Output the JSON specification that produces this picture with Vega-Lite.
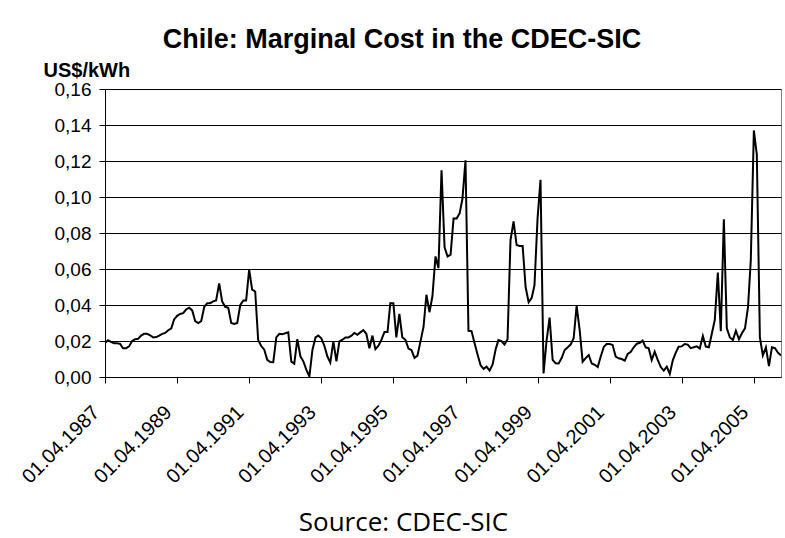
{
  "$schema": "https://vega.github.io/schema/vega-lite/v6.json",
  "width": 676,
  "height": 288,
  "autosize": {"type": "none"},
  "padding": {"left": 105, "top": 89, "right": 4, "bottom": 161},
  "background": "white",
  "title": {
    "text": "Chile: Marginal Cost in the CDEC-SIC",
    "font": "Liberation Sans",
    "fontSize": 27,
    "fontWeight": "bold",
    "color": "black",
    "anchor": "middle",
    "frame": "group",
    "dx": -41,
    "dy": -2
  },
  "data": {
    "values": [
      {"date": "1987-04-01", "cost": 0.0189}, {"date": "1987-05-01", "cost": 0.0204}, {"date": "1987-06-01", "cost": 0.0195}, {"date": "1987-07-01", "cost": 0.0187}, {"date": "1987-08-01", "cost": 0.0187}, {"date": "1987-09-01", "cost": 0.0184}, {"date": "1987-10-01", "cost": 0.016}, {"date": "1987-11-01", "cost": 0.016}, {"date": "1987-12-01", "cost": 0.017},
      {"date": "1988-01-01", "cost": 0.020}, {"date": "1988-02-01", "cost": 0.021}, {"date": "1988-03-01", "cost": 0.0212}, {"date": "1988-04-01", "cost": 0.023}, {"date": "1988-05-01", "cost": 0.024}, {"date": "1988-06-01", "cost": 0.024}, {"date": "1988-07-01", "cost": 0.0232}, {"date": "1988-08-01", "cost": 0.022}, {"date": "1988-09-01", "cost": 0.0222}, {"date": "1988-10-01", "cost": 0.023}, {"date": "1988-11-01", "cost": 0.024}, {"date": "1988-12-01", "cost": 0.0245},
      {"date": "1989-01-01", "cost": 0.026}, {"date": "1989-02-01", "cost": 0.027}, {"date": "1989-03-01", "cost": 0.032}, {"date": "1989-04-01", "cost": 0.034}, {"date": "1989-05-01", "cost": 0.035}, {"date": "1989-06-01", "cost": 0.0355}, {"date": "1989-07-01", "cost": 0.0375}, {"date": "1989-08-01", "cost": 0.0385}, {"date": "1989-09-01", "cost": 0.037}, {"date": "1989-10-01", "cost": 0.031}, {"date": "1989-11-01", "cost": 0.030}, {"date": "1989-12-01", "cost": 0.031},
      {"date": "1990-01-01", "cost": 0.039}, {"date": "1990-02-01", "cost": 0.041}, {"date": "1990-03-01", "cost": 0.041}, {"date": "1990-04-01", "cost": 0.042}, {"date": "1990-05-01", "cost": 0.0425}, {"date": "1990-06-01", "cost": 0.052}, {"date": "1990-07-01", "cost": 0.042}, {"date": "1990-08-01", "cost": 0.039}, {"date": "1990-09-01", "cost": 0.0385}, {"date": "1990-10-01", "cost": 0.030}, {"date": "1990-11-01", "cost": 0.0295}, {"date": "1990-12-01", "cost": 0.030},
      {"date": "1991-01-01", "cost": 0.040}, {"date": "1991-02-01", "cost": 0.0425}, {"date": "1991-03-01", "cost": 0.0425}, {"date": "1991-04-01", "cost": 0.0596}, {"date": "1991-05-01", "cost": 0.0485}, {"date": "1991-06-01", "cost": 0.0475}, {"date": "1991-07-01", "cost": 0.0205}, {"date": "1991-08-01", "cost": 0.0172}, {"date": "1991-09-01", "cost": 0.0152}, {"date": "1991-10-01", "cost": 0.0095}, {"date": "1991-11-01", "cost": 0.0083}, {"date": "1991-12-01", "cost": 0.0082},
      {"date": "1992-01-01", "cost": 0.022}, {"date": "1992-02-01", "cost": 0.024}, {"date": "1992-03-01", "cost": 0.0237}, {"date": "1992-04-01", "cost": 0.0243}, {"date": "1992-05-01", "cost": 0.0248}, {"date": "1992-06-01", "cost": 0.0085}, {"date": "1992-07-01", "cost": 0.0074}, {"date": "1992-08-01", "cost": 0.021}, {"date": "1992-09-01", "cost": 0.0115}, {"date": "1992-10-01", "cost": 0.0087}, {"date": "1992-11-01", "cost": 0.004}, {"date": "1992-12-01", "cost": 0.0003},
      {"date": "1993-01-01", "cost": 0.015}, {"date": "1993-02-01", "cost": 0.022}, {"date": "1993-03-01", "cost": 0.023}, {"date": "1993-04-01", "cost": 0.0215}, {"date": "1993-05-01", "cost": 0.0175}, {"date": "1993-06-01", "cost": 0.0115}, {"date": "1993-07-01", "cost": 0.008}, {"date": "1993-08-01", "cost": 0.0198}, {"date": "1993-09-01", "cost": 0.0087}, {"date": "1993-10-01", "cost": 0.0198}, {"date": "1993-11-01", "cost": 0.0207}, {"date": "1993-12-01", "cost": 0.022},
      {"date": "1994-01-01", "cost": 0.022}, {"date": "1994-02-01", "cost": 0.023}, {"date": "1994-03-01", "cost": 0.0245}, {"date": "1994-04-01", "cost": 0.0235}, {"date": "1994-05-01", "cost": 0.0248}, {"date": "1994-06-01", "cost": 0.026}, {"date": "1994-07-01", "cost": 0.024}, {"date": "1994-08-01", "cost": 0.016}, {"date": "1994-09-01", "cost": 0.023}, {"date": "1994-10-01", "cost": 0.0155}, {"date": "1994-11-01", "cost": 0.0174}, {"date": "1994-12-01", "cost": 0.0207},
      {"date": "1995-01-01", "cost": 0.025}, {"date": "1995-02-01", "cost": 0.025}, {"date": "1995-03-01", "cost": 0.041}, {"date": "1995-04-01", "cost": 0.041}, {"date": "1995-05-01", "cost": 0.022}, {"date": "1995-06-01", "cost": 0.035}, {"date": "1995-07-01", "cost": 0.022}, {"date": "1995-08-01", "cost": 0.0207}, {"date": "1995-09-01", "cost": 0.0158}, {"date": "1995-10-01", "cost": 0.015}, {"date": "1995-11-01", "cost": 0.0106}, {"date": "1995-12-01", "cost": 0.0118},
      {"date": "1996-01-01", "cost": 0.0198}, {"date": "1996-02-01", "cost": 0.028}, {"date": "1996-03-01", "cost": 0.0457}, {"date": "1996-04-01", "cost": 0.036}, {"date": "1996-05-01", "cost": 0.045}, {"date": "1996-06-01", "cost": 0.067}, {"date": "1996-07-01", "cost": 0.0605}, {"date": "1996-08-01", "cost": 0.1148}, {"date": "1996-09-01", "cost": 0.072}, {"date": "1996-10-01", "cost": 0.067}, {"date": "1996-11-01", "cost": 0.068}, {"date": "1996-12-01", "cost": 0.088},
      {"date": "1997-01-01", "cost": 0.088}, {"date": "1997-02-01", "cost": 0.091}, {"date": "1997-03-01", "cost": 0.099}, {"date": "1997-04-01", "cost": 0.1204}, {"date": "1997-05-01", "cost": 0.0257}, {"date": "1997-06-01", "cost": 0.0255}, {"date": "1997-07-01", "cost": 0.019}, {"date": "1997-08-01", "cost": 0.0125}, {"date": "1997-09-01", "cost": 0.0065}, {"date": "1997-10-01", "cost": 0.0045}, {"date": "1997-11-01", "cost": 0.0057}, {"date": "1997-12-01", "cost": 0.0035},
      {"date": "1998-01-01", "cost": 0.007}, {"date": "1998-02-01", "cost": 0.0155}, {"date": "1998-03-01", "cost": 0.0205}, {"date": "1998-04-01", "cost": 0.020}, {"date": "1998-05-01", "cost": 0.018}, {"date": "1998-06-01", "cost": 0.021}, {"date": "1998-07-01", "cost": 0.076}, {"date": "1998-08-01", "cost": 0.0865}, {"date": "1998-09-01", "cost": 0.0733}, {"date": "1998-10-01", "cost": 0.0728}, {"date": "1998-11-01", "cost": 0.0728}, {"date": "1998-12-01", "cost": 0.050},
      {"date": "1999-01-01", "cost": 0.0415}, {"date": "1999-02-01", "cost": 0.044}, {"date": "1999-03-01", "cost": 0.051}, {"date": "1999-04-01", "cost": 0.088}, {"date": "1999-05-01", "cost": 0.1096}, {"date": "1999-06-01", "cost": 0.002}, {"date": "1999-07-01", "cost": 0.020}, {"date": "1999-08-01", "cost": 0.033}, {"date": "1999-09-01", "cost": 0.0095}, {"date": "1999-10-01", "cost": 0.0076}, {"date": "1999-11-01", "cost": 0.0075}, {"date": "1999-12-01", "cost": 0.0105},
      {"date": "2000-01-01", "cost": 0.015}, {"date": "2000-02-01", "cost": 0.0165}, {"date": "2000-03-01", "cost": 0.018}, {"date": "2000-04-01", "cost": 0.0215}, {"date": "2000-05-01", "cost": 0.0395}, {"date": "2000-06-01", "cost": 0.026}, {"date": "2000-07-01", "cost": 0.0085}, {"date": "2000-08-01", "cost": 0.0105}, {"date": "2000-09-01", "cost": 0.0122}, {"date": "2000-10-01", "cost": 0.0075}, {"date": "2000-11-01", "cost": 0.0068}, {"date": "2000-12-01", "cost": 0.0055},
      {"date": "2001-01-01", "cost": 0.0115}, {"date": "2001-02-01", "cost": 0.0168}, {"date": "2001-03-01", "cost": 0.0183}, {"date": "2001-04-01", "cost": 0.0183}, {"date": "2001-05-01", "cost": 0.0178}, {"date": "2001-06-01", "cost": 0.0113}, {"date": "2001-07-01", "cost": 0.0104}, {"date": "2001-08-01", "cost": 0.010}, {"date": "2001-09-01", "cost": 0.0091}, {"date": "2001-10-01", "cost": 0.0128}, {"date": "2001-11-01", "cost": 0.014}, {"date": "2001-12-01", "cost": 0.0165},
      {"date": "2002-01-01", "cost": 0.0185}, {"date": "2002-02-01", "cost": 0.019}, {"date": "2002-03-01", "cost": 0.0202}, {"date": "2002-04-01", "cost": 0.0165}, {"date": "2002-05-01", "cost": 0.016}, {"date": "2002-06-01", "cost": 0.0094}, {"date": "2002-07-01", "cost": 0.0141}, {"date": "2002-08-01", "cost": 0.0095}, {"date": "2002-09-01", "cost": 0.0055}, {"date": "2002-10-01", "cost": 0.0035}, {"date": "2002-11-01", "cost": 0.0057}, {"date": "2002-12-01", "cost": 0.0017},
      {"date": "2003-01-01", "cost": 0.0094}, {"date": "2003-02-01", "cost": 0.0137}, {"date": "2003-03-01", "cost": 0.0168}, {"date": "2003-04-01", "cost": 0.017}, {"date": "2003-05-01", "cost": 0.0183}, {"date": "2003-06-01", "cost": 0.018}, {"date": "2003-07-01", "cost": 0.016}, {"date": "2003-08-01", "cost": 0.0165}, {"date": "2003-09-01", "cost": 0.017}, {"date": "2003-10-01", "cost": 0.0158}, {"date": "2003-11-01", "cost": 0.0228}, {"date": "2003-12-01", "cost": 0.0169},
      {"date": "2004-01-01", "cost": 0.0165}, {"date": "2004-02-01", "cost": 0.0243}, {"date": "2004-03-01", "cost": 0.0317}, {"date": "2004-04-01", "cost": 0.058}, {"date": "2004-05-01", "cost": 0.0255}, {"date": "2004-06-01", "cost": 0.0876}, {"date": "2004-07-01", "cost": 0.027}, {"date": "2004-08-01", "cost": 0.022}, {"date": "2004-09-01", "cost": 0.0206}, {"date": "2004-10-01", "cost": 0.0257}, {"date": "2004-11-01", "cost": 0.021}, {"date": "2004-12-01", "cost": 0.0243},
      {"date": "2005-01-01", "cost": 0.027}, {"date": "2005-02-01", "cost": 0.039}, {"date": "2005-03-01", "cost": 0.065}, {"date": "2005-04-01", "cost": 0.137}, {"date": "2005-05-01", "cost": 0.1235}, {"date": "2005-06-01", "cost": 0.022}, {"date": "2005-07-01", "cost": 0.012}, {"date": "2005-08-01", "cost": 0.0165}, {"date": "2005-09-01", "cost": 0.006}, {"date": "2005-10-01", "cost": 0.0165}, {"date": "2005-11-01", "cost": 0.016}, {"date": "2005-12-01", "cost": 0.0135},
      {"date": "2006-01-01", "cost": 0.012}
    ]
  },
  "mark": {"type": "line", "color": "black", "strokeWidth": 2, "clip": true},
  "encoding": {
    "x": {
      "field": "date",
      "type": "temporal",
      "scale": {
        "type": "utc",
        "domain": [
          {"year": 1987, "month": 4, "date": 1, "utc": true},
          {"year": 2006, "month": 1, "date": 1, "utc": true}
        ]
      },
      "axis": {
        "values": [
          {"year": 1987, "month": 4, "date": 1, "utc": true},
          {"year": 1989, "month": 4, "date": 1, "utc": true},
          {"year": 1991, "month": 4, "date": 1, "utc": true},
          {"year": 1993, "month": 4, "date": 1, "utc": true},
          {"year": 1995, "month": 4, "date": 1, "utc": true},
          {"year": 1997, "month": 4, "date": 1, "utc": true},
          {"year": 1999, "month": 4, "date": 1, "utc": true},
          {"year": 2001, "month": 4, "date": 1, "utc": true},
          {"year": 2003, "month": 4, "date": 1, "utc": true},
          {"year": 2005, "month": 4, "date": 1, "utc": true}
        ],
        "labelExpr": "utcFormat(datum.value, '%d.%m.%Y')",
        "labelAngle": -45,
        "labelAlign": "right",
        "labelBaseline": "middle",
        "labelPadding": 26,
        "labelOffset": -9,
        "labelFont": "Liberation Sans",
        "labelFontSize": 20,
        "labelColor": "black",
        "labelOverlap": false,
        "labelBound": false,
        "labelFlush": false,
        "tickSize": 6,
        "tickColor": "black",
        "domainColor": "black",
        "grid": false,
        "title": "Source: CDEC-SIC",
        "titleFont": "Open Sans",
        "titleFontSize": 26,
        "titleFontWeight": "normal",
        "titleColor": "black",
        "titleX": 298,
        "titleY": 153,
        "titleAlign": "center",
        "titleAnchor": "start",
        "titleBaseline": "alphabetic"
      }
    },
    "y": {
      "field": "cost",
      "type": "quantitative",
      "scale": {"domain": [0, 0.16], "nice": false},
      "axis": {
        "values": [0, 0.02, 0.04, 0.06, 0.08, 0.1, 0.12, 0.14, 0.16],
        "labelExpr": "replace(format(datum.value, '.2f'), '.', ',')",
        "labelFont": "Liberation Sans",
        "labelFontSize": 19,
        "labelColor": "black",
        "labelPadding": 8,
        "tickSize": 6,
        "tickColor": "black",
        "domainColor": "black",
        "grid": true,
        "gridColor": "black",
        "gridWidth": 1,
        "gridOpacity": 1,
        "title": "US$/kWh",
        "titleAngle": 0,
        "titleAlign": "left",
        "titleAnchor": "start",
        "titleBaseline": "alphabetic",
        "titleX": -62,
        "titleY": -13,
        "titleFont": "Liberation Sans",
        "titleFontSize": 20,
        "titleFontWeight": "bold",
        "titleColor": "black"
      }
    }
  },
  "config": {
    "view": {"stroke": "#808080", "strokeWidth": 1}
  }
}
